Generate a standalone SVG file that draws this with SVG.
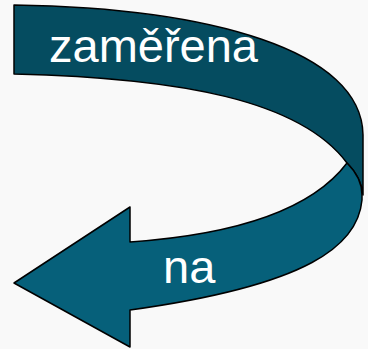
<svg xmlns="http://www.w3.org/2000/svg" width="368" height="349" viewBox="0 0 368 349">
<style>
.band{stroke:#000;stroke-width:1.5;stroke-linejoin:round}
.top{fill:#054c60}
.low{fill:#06607a}
.lbl{font-family:"Liberation Sans",Arial,sans-serif;font-size:47px;fill:#fff}
</style>
<rect width="368" height="349" fill="#f9f9f9"/>
<g id="arrow">
<g id="upper-band">
<path class="band top" d="M14,5 C210,8 362,50 363,135 L363,195 C362,182 356,172 347,163 C300,100 180,78 14,74 Z"/>
<text class="lbl" x="49" y="62">zaměřena</text>
</g>
<g id="lower-band">
<path class="band low" d="M130,242 C230,235 310,212 347,163 C356,172 362,182 362,195 L362,200 C358,245 310,285 130,310 L130,347 L14,283 L130,207 Z"/>
<text class="lbl" x="163" y="283">na</text>
</g>
</g>
</svg>
